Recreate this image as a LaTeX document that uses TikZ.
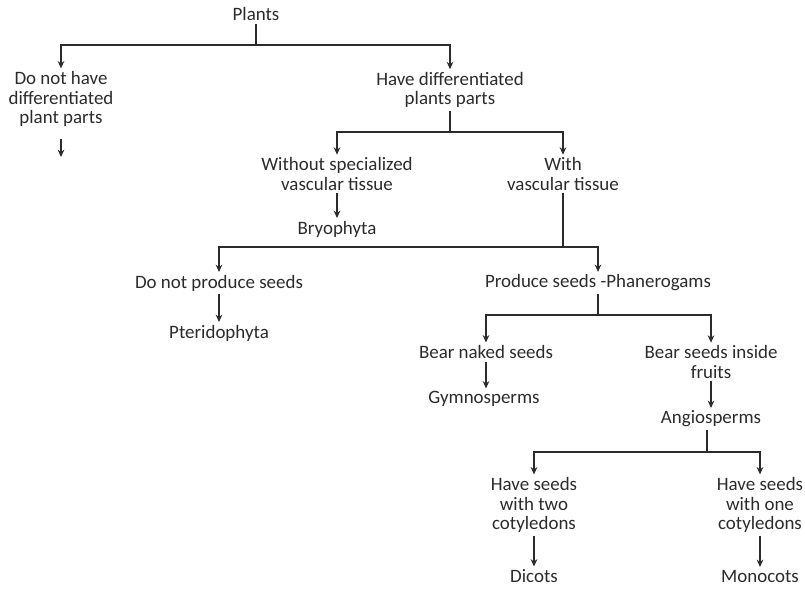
\documentclass[tikz,border=0pt]{standalone}
\usepackage{fontspec}
\setmainfont{Carlito}
\usetikzlibrary{arrows.meta}
\definecolor{ink}{rgb}{0.17,0.17,0.17}

\begin{document}
\begin{tikzpicture}[x=0.75pt, y=-0.75pt,
	item/.style={align=center, inner sep=2pt, text=ink, font=\fontsize{14.2}{14.7}\selectfont},
	link/.style={draw=ink, line width=0.8pt},
	arr/.style={link, -{Stealth[length=5.5pt, width=5pt]}}]
		\useasboundingbox (0,0) rectangle (805,588);
		\node[item] (plants) at (256,14) {Plants};
		\node[item] (nodiff) at (61,99) {Do not have\\differentiated\\plant parts};
		\node[item] (diff) at (450,90) {Have differentiated\\plants parts};
		\node[item] (nospec) at (337,174) {Without specialized\\vascular tissue};
		\node[item] (bryo) at (337,229) {Bryophyta};
		\node[item] (vasc) at (563,174) {With\\vascular tissue};
		\node[item] (noseed) at (219,283) {Do not produce seeds};
		\node[item] (pterido) at (219,333) {Pteridophyta};
		\node[item] (seeds) at (598,283) {Produce seeds -Phanerogams};
		\node[item] (naked) at (486,352) {Bear naked seeds};
		\node[item] (gymno) at (484,399) {Gymnosperms};
		\node[item] (fruits) at (711,362) {Bear seeds inside\\fruits};
		\node[item] (angio) at (711,419) {Angiosperms};
		\node[item] (two) at (534,505) {Have seeds\\with two\\cotyledons};
		\node[item] (one) at (760,505) {Have seeds\\with one\\cotyledons};
		\node[item] (dicots) at (534,576) {Dicots};
		\node[item] (mono) at (760,576) {Monocots};
		% junctions of the branches
		\coordinate (j1) at (256,45);
		\coordinate (j2) at (450,132);
		\coordinate (j3) at (563,247);
		\coordinate (j4) at (598,315);
		\coordinate (j5) at (707,452);
		\coordinate (nodiffend) at (61,157);
		\draw[link] (plants) -- (j1);
		\draw[arr] (j1) -| (nodiff);
		\draw[arr] (j1) -| (diff);
		\draw[arr, shorten <=7pt] (nodiff) -- (nodiffend);
		\draw[link] (diff) -- (j2);
		\draw[arr] (j2) -| (nospec);
		\draw[arr] (j2) -| (vasc);
		\draw[arr] (nospec) -- (bryo);
		\draw[link] (vasc) -- (j3);
		\draw[arr] (j3) -| (noseed);
		\draw[arr] (j3) -| (seeds);
		\draw[arr] (noseed) -- (pterido);
		\draw[link] (seeds) -- (j4);
		\draw[arr] (j4) -| (naked);
		\draw[arr] (j4) -| (fruits);
		\draw[arr] (naked.south) -- (naked.south |- gymno.north);
		\draw[arr] (fruits) -- (angio);
		\draw[link] (angio.south -| j5) -- (j5);
		\draw[arr] (j5) -| (two);
		\draw[arr] (j5) -| (one);
		\draw[arr] (two) -- (dicots);
		\draw[arr] (one) -- (mono);
	\end{tikzpicture}
\end{document}
